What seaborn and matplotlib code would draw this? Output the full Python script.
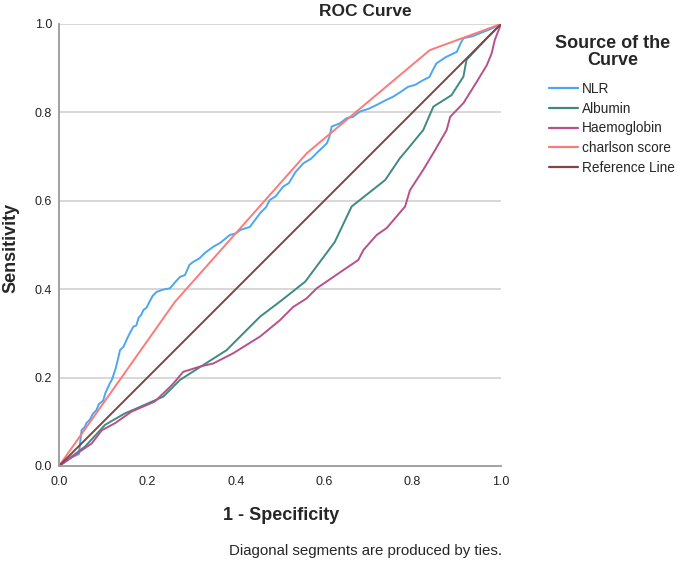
import numpy as np
import pandas as pd
import matplotlib
matplotlib.use("Agg")
import matplotlib.pyplot as plt
import seaborn as sns
from matplotlib.lines import Line2D

# ---- data ----
nlr_x = [0.0, 0.030, 0.045, 0.047, 0.051, 0.058, 0.062, 0.070, 0.076, 0.085, 0.090, 0.100, 0.105,
         0.115, 0.120, 0.128, 0.133, 0.138, 0.146, 0.155, 0.160, 0.168, 0.175, 0.180, 0.186, 0.191,
         0.198, 0.205, 0.212, 0.221, 0.235, 0.251, 0.262, 0.274, 0.285, 0.295, 0.304, 0.318, 0.330,
         0.349, 0.365, 0.387, 0.400, 0.410, 0.432, 0.440, 0.455, 0.468, 0.477, 0.490, 0.507, 0.520,
         0.535, 0.553, 0.570, 0.585, 0.606, 0.612, 0.617, 0.635, 0.651, 0.665, 0.681, 0.700, 0.719,
         0.740, 0.755, 0.771, 0.790, 0.805, 0.824, 0.838, 0.848, 0.854, 0.875, 0.900, 0.908, 0.915,
         0.935, 0.952, 0.975, 1.0]
nlr_y = [0.0, 0.020, 0.027, 0.045, 0.081, 0.088, 0.097, 0.105, 0.117, 0.127, 0.140, 0.148, 0.165,
         0.187, 0.196, 0.220, 0.240, 0.262, 0.270, 0.290, 0.300, 0.315, 0.318, 0.335, 0.342, 0.353,
         0.358, 0.372, 0.385, 0.394, 0.399, 0.402, 0.415, 0.428, 0.432, 0.455, 0.462, 0.470, 0.482,
         0.496, 0.505, 0.523, 0.526, 0.534, 0.541, 0.552, 0.572, 0.585, 0.602, 0.610, 0.632, 0.640,
         0.665, 0.685, 0.695, 0.710, 0.730, 0.745, 0.768, 0.775, 0.787, 0.790, 0.802, 0.808, 0.817,
         0.828, 0.835, 0.845, 0.858, 0.862, 0.873, 0.880, 0.900, 0.911, 0.925, 0.937, 0.955, 0.968,
         0.972, 0.979, 0.988, 1.0]

alb_x = [0.0, 0.059, 0.104, 0.149, 0.168, 0.236, 0.274, 0.379, 0.455, 0.500, 0.557, 0.624, 0.662,
         0.738, 0.771, 0.787, 0.824, 0.847, 0.888, 0.915, 0.922, 0.968, 1.0]
alb_y = [0.0, 0.044, 0.093, 0.119, 0.127, 0.157, 0.195, 0.262, 0.338, 0.372, 0.417, 0.507, 0.587,
         0.647, 0.696, 0.715, 0.760, 0.813, 0.839, 0.881, 0.919, 0.968, 1.0]

hae_x = [0.0, 0.036, 0.074, 0.097, 0.127, 0.164, 0.217, 0.244, 0.259, 0.281, 0.319, 0.349, 0.394,
         0.455, 0.500, 0.530, 0.560, 0.583, 0.643, 0.677, 0.689, 0.719, 0.741, 0.783, 0.794, 0.824,
         0.851, 0.877, 0.885, 0.915, 0.945, 0.968, 0.979, 0.986, 1.0]
hae_y = [0.0, 0.025, 0.051, 0.081, 0.097, 0.123, 0.146, 0.172, 0.187, 0.213, 0.225, 0.232, 0.255,
         0.293, 0.330, 0.360, 0.379, 0.402, 0.443, 0.466, 0.489, 0.523, 0.538, 0.587, 0.624, 0.670,
         0.715, 0.760, 0.790, 0.821, 0.869, 0.907, 0.934, 0.964, 1.0]

chs_x = [0.0, 0.262, 0.561, 0.839, 1.0]
chs_y = [0.0, 0.371, 0.708, 0.941, 1.0]

ref_x = [0.0, 1.0]
ref_y = [0.0, 1.0]

series_names = ["NLR", "Albumin", "Haemoglobin", "charlson score", "Reference Line"]
series_colors = ["#4ca6f2", "#3f8a7e", "#b8508a", "#fb7a7a", "#7d4747"]
x_ticks = [0.0, 0.2, 0.4, 0.6, 0.8, 1.0]
y_ticks = [0.0, 0.2, 0.4, 0.6, 0.8, 1.0]

frames = []
for name, xs, ys in zip(series_names,
                        [nlr_x, alb_x, hae_x, chs_x, ref_x],
                        [nlr_y, alb_y, hae_y, chs_y, ref_y]):
    d = pd.DataFrame({"x": xs, "y": ys})
    d["source"] = name
    frames.append(d)
df = pd.concat(frames, ignore_index=True)

sns.set_theme(style="white")
plt.rcParams["font.family"] = ["Liberation Sans", "DejaVu Sans"]

fig = plt.figure(figsize=(6.85, 5.62), dpi=100)
ax = fig.add_axes([59/685, 1-466/562, (501-59)/685, (466-24)/562])

for yv in y_ticks[1:]:
    ax.axhline(yv, color="#d4d4d4", lw=1.3, zorder=0)

sns.lineplot(data=df, x="x", y="y", hue="source", units="source", estimator=None,
             sort=False, palette=dict(zip(series_names, series_colors)),
             hue_order=series_names, lw=1.4, ax=ax, legend=False)

ax.set_xlim(0, 1)
ax.set_ylim(0, 1)
ax.set_xticks(x_ticks)
ax.set_yticks(y_ticks)
ax.set_xticklabels([f"{v:.1f}" for v in x_ticks], fontsize=9, color="#222222")
ax.set_yticklabels([f"{v:.1f}" for v in y_ticks], fontsize=9, color="#222222")
ax.tick_params(axis="x", length=0, pad=7)
ax.tick_params(axis="y", length=0, pad=5)
for s in ["top", "right"]:
    ax.spines[s].set_visible(False)
for s in ["left", "bottom"]:
    ax.spines[s].set_color("#9a9a9a")
    ax.spines[s].set_linewidth(1.3)
ax.set_xlabel("")
ax.set_ylabel("")

fig.text(365/685, 1-11/562, "ROC Curve", ha="center", va="center", fontsize=12.5, fontweight="bold")
fig.text(281/685, 1-515/562, "1 - Specificity", ha="center", va="center", fontsize=13, fontweight="bold")
fig.text(11/685, 1-248/562, "Sensitivity", ha="center", va="center", rotation=90, fontsize=13, fontweight="bold")
fig.text(366/685, 1-551/562, "Diagonal segments are produced by ties.", ha="center", va="center", fontsize=10.8)

fig.text(613/685, 1-52/562, "Source of the\nCurve", ha="center", va="center", fontsize=13,
         fontweight="bold", multialignment="center", linespacing=1.0)

handles = [Line2D([], [], color=c, lw=1.6) for c in series_colors]
leg = fig.legend(handles, series_names, loc="upper left", bbox_to_anchor=(549/685, 1-82/562),
                 frameon=False, fontsize=9.8, handlelength=2.1, handletextpad=0.3,
                 labelspacing=0.42, borderaxespad=0, borderpad=0)

fig.savefig("out.png", dpi=100)
